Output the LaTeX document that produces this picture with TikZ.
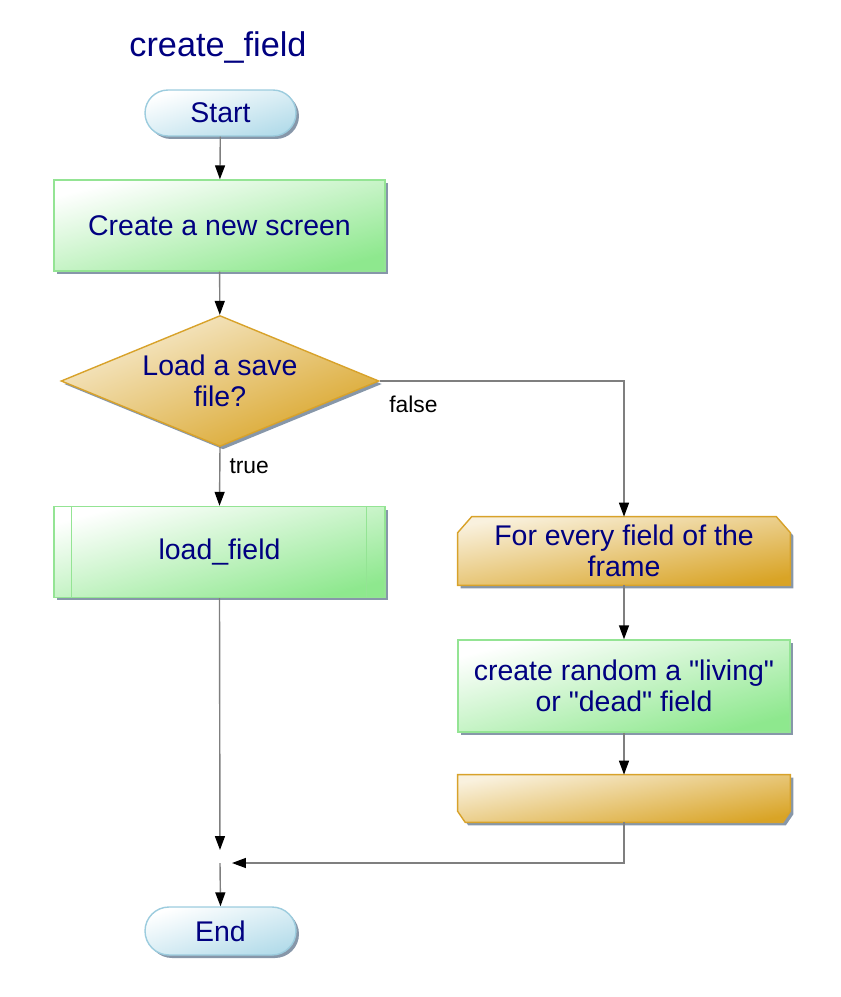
\documentclass[tikz,border=0pt]{standalone}
\usepackage{fontspec}
\setmainfont{Liberation Sans}
\usetikzlibrary{arrows.meta,shapes.geometric,shapes.misc,shadows,backgrounds}

\definecolor{txtblue}{HTML}{000080}
\definecolor{pillfill}{HTML}{B4DCEA}
\definecolor{pillline}{HTML}{9CCCDE}
\definecolor{boxfill}{HTML}{8EE88E}
\definecolor{boxline}{HTML}{94E494}
\definecolor{goldfill}{HTML}{D9A426}
\definecolor{goldline}{HTML}{D8A22A}
\definecolor{shadowcol}{HTML}{7A8CA0}
\definecolor{linecol}{HTML}{7F7F7F}

\tikzset{
    base/.style={font=\fontsize{16.2}{18}\selectfont, text=txtblue, align=center, inner sep=0pt,
        drop shadow={shadow xshift=0.06cm, shadow yshift=-0.06cm, fill=shadowcol, opacity=0.9}},
    terminal/.style={base, rounded rectangle, draw=pillline, line width=0.8pt,
        top color=white, bottom color=pillfill, shading angle=17,
        minimum width=3.02cm, minimum height=0.92cm},
    process/.style={base, rectangle, draw=boxline, line width=0.8pt,
        top color=white, bottom color=boxfill, shading angle=15,
        minimum width=6.62cm, minimum height=1.82cm},
    decision/.style={base, diamond, aspect=2.43, draw=goldline, line width=0.8pt,
        top color=white!80!goldfill, bottom color=goldfill, shading angle=22,
        minimum width=6.36cm, minimum height=2.62cm},
    loopnode/.style={font=\fontsize{16.2}{18}\selectfont, text=txtblue, align=center, inner sep=0pt,
        rectangle, minimum width=6.64cm},
    loopshape/.style={draw=goldline, line width=0.8pt,
        top color=white!85!goldfill, bottom color=goldfill, shading angle=10,
        drop shadow={shadow xshift=0.06cm, shadow yshift=-0.06cm, fill=shadowcol, opacity=0.9}},
    flow/.style={draw=linecol, line width=0.8pt, -{Triangle[length=0.28cm, width=0.2cm, fill=black, color=black]}},
    lbl/.style={font=\fontsize{13}{15}\selectfont, text=black, inner sep=0pt}
}

\begin{document}
\begin{tikzpicture}[x=0.02cm, y=-0.02cm]
    \useasboundingbox (0,0) rectangle (840,997);

    % title
    \node[font=\fontsize{19.5}{22}\selectfont, text=txtblue] (title) at (218,47) {create\_field};

    % main column
    \node[terminal] (start) at (220.5,113) {Start};
    \node[process] (newscreen) at (219.5,225.5) {Create a new screen};
    \node[decision] (savefile) at (220,381) {Load a save\\file?};
    \node[process] (loadfield) at (219.5,552) {load\_field};
    \draw[boxline, line width=0.8pt] ([xshift=0.36cm]loadfield.north west) -- ([xshift=0.36cm]loadfield.south west);
    \draw[boxline, line width=0.8pt] ([xshift=-0.38cm]loadfield.north east) -- ([xshift=-0.38cm]loadfield.south east);

    % loop column
    \node[loopnode, minimum height=1.36cm] (loopstart) at (624,551) {For every field of the\\frame};
    \node[process, minimum width=6.64cm, minimum height=1.84cm] (randfield) at (624,686)
        {create random a \textquotedbl living\textquotedbl\\or \textquotedbl dead\textquotedbl\ field};
    \node[loopnode, minimum height=0.94cm] (loopend) at (624,798.5) {};

    % loop outlines, cut corners
    \begin{scope}[on background layer]
        \path[loopshape] ([yshift=-0.32cm]loopstart.north west) -- ([xshift=0.28cm]loopstart.north west)
            -- ([xshift=-0.28cm]loopstart.north east) -- ([yshift=-0.32cm]loopstart.north east)
            -- (loopstart.south east) -- (loopstart.south west) -- cycle;
        \path[loopshape] (loopend.north west) -- (loopend.north east)
            -- ([yshift=0.22cm]loopend.south east) -- ([xshift=-0.15cm]loopend.south east)
            -- ([xshift=0.15cm]loopend.south west) -- ([yshift=0.22cm]loopend.south west) -- cycle;
    \end{scope}

    \coordinate (join) at (220,863);
    \node[terminal, minimum height=0.96cm] (finish) at (220.5,931) {End};

    % connectors
    \draw[flow] (start) -- (newscreen);
    \draw[flow] (newscreen) -- (savefile);
    \draw[flow] (savefile.south) -- node[lbl, pos=0.33, anchor=west, xshift=0.18cm] (truelbl) {true} (loadfield.north);
    \draw[flow] (savefile.east) -| node[lbl, at start, anchor=north west, xshift=0.18cm, yshift=-0.28cm] (falselbl) {false} (loopstart.north);
    \draw[flow] (loopstart) -- (randfield);
    \draw[flow] (randfield) -- (loopend);
    \draw[flow, shorten >=0.24cm] (loopend.south) |- (join);
    \draw[flow, shorten >=0.26cm] (loadfield.south) -- (join);
    \draw[flow] (join) -- (finish.north);
\end{tikzpicture}
\end{document}
